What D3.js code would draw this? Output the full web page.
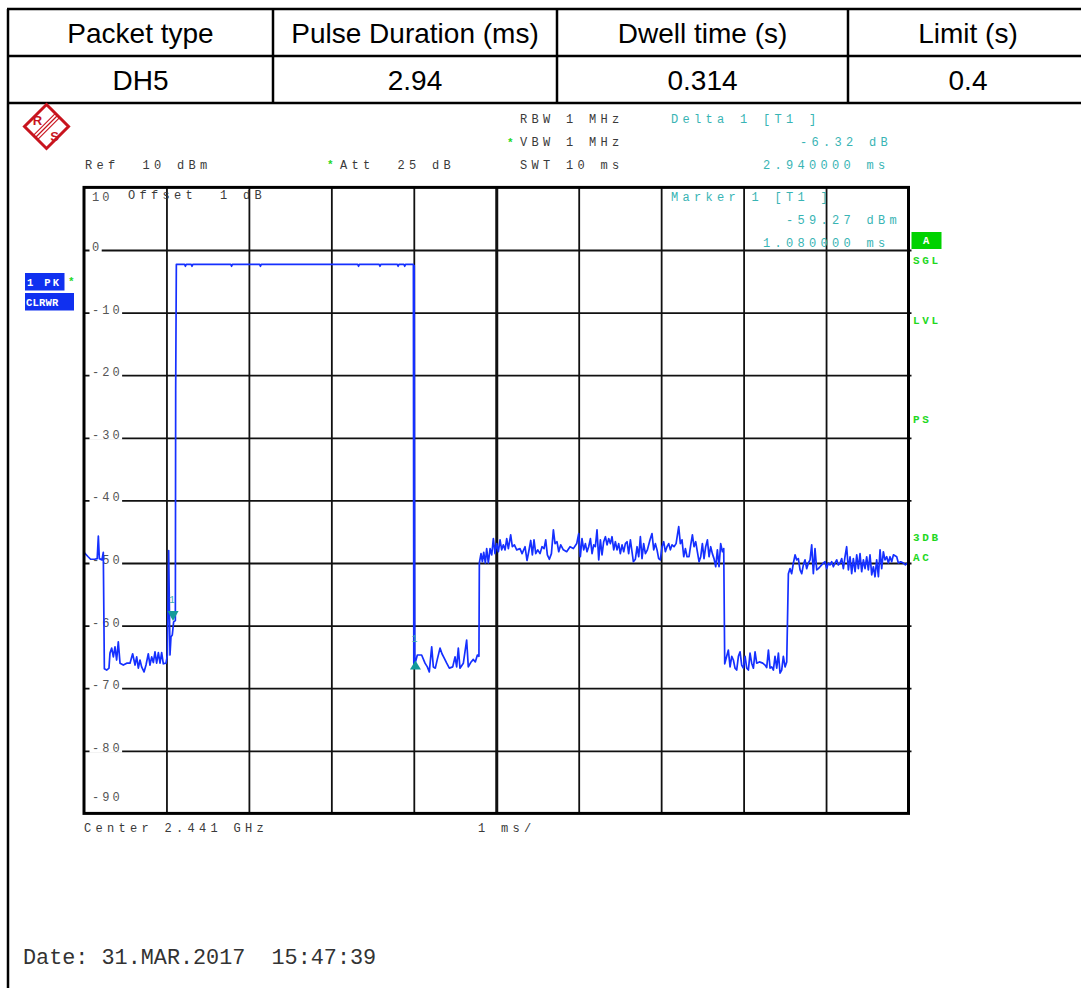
<!DOCTYPE html>
<html><head><meta charset="utf-8">
<script src="https://cdn.jsdelivr.net/npm/d3@7"></script>
<style>body{margin:0;background:#fff}svg{display:block}</style>
</head><body>
<svg id="c" width="1081" height="988"></svg>
<script>
// ---------------- data ----------------
const tableHeaders = ["Packet type", "Pulse Duration (ms)", "Dwell time (s)", "Limit (s)"];
const tableValues = ["DH5", "2.94", "0.314", "0.4"];
const yTicks = [10, 0, -10, -20, -30, -40, -50, -60, -70, -80, -90];
const xTicks = [0, 1, 2, 3, 4, 5, 6, 7, 8, 9, 10];
const markerTimesMs = [1.08, 4.02];        // marker 1, delta 1 position
const markerLevelsDbm = [-59.27, -65.59];  // marker 1, delta 1 level
const deltaValues = ["-6.32 dB", "2.940000 ms"];
const markerValues = ["-59.27 dBm", "1.080000 ms"];
const statusLabels = ["SGL", "LVL", "PS", "3DB", "AC"];
// trace: [time (ms), level (dBm)]
const trace = [
[0.00,-48.3],[0.05,-49.0],[0.08,-49.4],[0.13,-49.4],[0.16,-49.3],[0.174,-45.7],[0.186,-49.3],[0.218,-49.5],[0.234,-48.3],[0.247,-66.9],
[0.275,-67.1],[0.303,-66.8],[0.315,-64.4],[0.336,-63.6],[0.356,-65.0],[0.376,-63.4],[0.396,-65.5],[0.416,-62.6],[0.437,-66.0],[0.477,-66.3],
[0.518,-66.0],[0.558,-66.0],[0.590,-64.5],[0.619,-66.3],[0.639,-65.0],[0.659,-66.8],[0.679,-65.5],[0.699,-66.6],[0.728,-67.4],[0.752,-66.3],
[0.780,-64.5],[0.800,-66.3],[0.821,-65.0],[0.841,-65.9],[0.861,-64.2],[0.881,-66.0],[0.902,-64.3],[0.922,-66.0],[0.942,-64.3],[0.962,-66.1],
[0.995,-66.0],[1.011,-64.7],[1.027,-48.0],[1.043,-64.7],[1.055,-61.8],[1.071,-61.5],[1.087,-59.4],[1.108,-59.2],[1.112,-22.5],[1.120,-2.3],
[1.22,-2.3],[1.23,-2.6],[1.24,-2.3],[1.30,-2.3],[1.31,-2.6],[1.32,-2.3],[1.78,-2.3],[1.79,-2.6],[1.80,-2.3],[2.13,-2.3],[2.14,-2.6],[2.15,-2.3],
[3.32,-2.3],[3.33,-2.6],[3.34,-2.3],[3.58,-2.3],[3.59,-2.6],[3.60,-2.3],[3.80,-2.3],[3.81,-2.6],[3.82,-2.3],[3.88,-2.3],[3.89,-2.6],[3.90,-2.3],
[3.995,-2.3],[4.000,-66.0],[4.005,-2.5],[4.012,-66.2],
[4.043,-64.7],[4.095,-64.7],[4.136,-66.0],[4.164,-66.6],[4.188,-67.4],[4.217,-63.4],[4.237,-66.6],[4.261,-66.8],[4.285,-65.4],[4.318,-63.6],
[4.342,-64.5],[4.366,-65.1],[4.399,-66.0],[4.431,-66.8],[4.472,-66.6],[4.500,-65.0],[4.520,-66.6],[4.540,-63.6],[4.560,-66.8],[4.601,-66.0],
[4.641,-62.3],[4.661,-66.6],[4.690,-65.9],[4.722,-65.4],[4.746,-65.8],[4.771,-64.7],[4.790,-64.9],
[4.795,-50.0],[4.815,-48.5],[4.832,-49.8],[4.848,-48.3],[4.868,-50.0],[4.884,-47.7],[4.904,-50.0],[4.925,-47.7],[4.945,-48.7],[4.965,-46.1],
[4.985,-48.5],[5.005,-46.9],[5.026,-48.2],[5.046,-46.3],[5.066,-47.9],[5.086,-47.1],[5.107,-47.9],[5.127,-46.1],[5.147,-47.7],[5.175,-45.5],
[5.195,-47.4],[5.220,-47.1],[5.248,-47.9],[5.288,-47.7],[5.313,-48.5],[5.349,-47.4],[5.373,-49.6],[5.394,-48.2],[5.418,-46.4],[5.438,-48.7],
[5.458,-46.3],[5.479,-48.5],[5.503,-47.9],[5.531,-48.5],[5.555,-47.4],[5.580,-47.7],[5.600,-46.3],[5.620,-48.7],[5.644,-49.4],[5.669,-48.5],
[5.693,-44.7],[5.713,-46.9],[5.737,-46.6],[5.758,-48.2],[5.782,-47.1],[5.814,-47.9],[5.854,-48.2],[5.895,-47.4],[5.935,-47.7],[5.976,-46.9],
[6.000,-45.3],[6.020,-49.0],[6.040,-46.1],[6.061,-47.9],[6.081,-46.9],[6.101,-48.2],[6.121,-47.4],[6.142,-46.1],[6.162,-48.5],[6.182,-47.1],
[6.202,-47.4],[6.222,-44.7],[6.243,-49.5],[6.263,-46.3],[6.283,-48.7],[6.303,-46.6],[6.324,-45.8],[6.344,-47.1],[6.364,-46.1],[6.384,-46.9],
[6.404,-45.8],[6.425,-47.9],[6.445,-46.6],[6.465,-47.9],[6.485,-46.9],[6.505,-48.5],[6.526,-47.1],[6.546,-48.2],[6.566,-46.9],[6.586,-46.6],
[6.606,-48.5],[6.627,-46.3],[6.663,-49.8],[6.687,-49.4],[6.708,-47.4],[6.728,-49.0],[6.748,-45.8],[6.768,-49.3],[6.788,-46.9],[6.809,-48.5],
[6.833,-47.9],[6.865,-46.3],[6.889,-45.3],[6.910,-47.9],[6.930,-46.9],[6.950,-47.9],[6.970,-49.3],[6.990,-49.5],[7.011,-47.4],[7.031,-46.6],
[7.051,-48.2],[7.071,-47.4],[7.092,-46.9],[7.112,-47.9],[7.132,-47.1],[7.156,-47.4],[7.181,-46.9],[7.213,-44.2],[7.233,-46.9],[7.253,-46.3],
[7.274,-49.0],[7.294,-47.7],[7.314,-49.0],[7.338,-49.0],[7.359,-47.1],[7.379,-45.5],[7.399,-47.4],[7.419,-46.6],[7.439,-48.2],[7.460,-49.8],
[7.480,-49.0],[7.500,-46.9],[7.520,-49.3],[7.540,-47.4],[7.561,-46.3],[7.581,-49.0],[7.601,-47.4],[7.621,-48.5],[7.641,-49.3],[7.662,-50.6],
[7.682,-47.9],[7.702,-50.6],[7.722,-46.9],[7.743,-48.2],[7.759,-47.7],
[7.771,-66.1],[7.795,-64.9],[7.815,-63.9],[7.836,-66.6],[7.856,-64.9],[7.876,-65.5],[7.896,-66.8],[7.916,-67.1],[7.937,-64.9],[7.957,-64.2],
[7.977,-66.3],[7.997,-66.8],[8.018,-64.9],[8.038,-66.8],[8.058,-67.1],[8.078,-64.4],[8.098,-66.0],[8.119,-66.8],[8.139,-64.2],[8.159,-66.0],
[8.191,-65.8],[8.232,-66.0],[8.260,-66.3],[8.280,-66.7],[8.301,-63.9],[8.321,-66.8],[8.341,-66.6],[8.361,-67.1],[8.381,-64.9],[8.402,-66.8],
[8.422,-64.4],[8.442,-67.6],[8.462,-67.1],[8.482,-64.9],[8.503,-66.6],[8.523,-65.8],
[8.543,-51.7],[8.563,-50.9],[8.583,-51.7],[8.604,-50.0],[8.624,-48.7],[8.644,-49.5],[8.664,-49.3],[8.685,-51.1],[8.705,-51.7],[8.725,-50.3],
[8.745,-49.5],[8.765,-50.9],[8.786,-50.0],[8.806,-49.5],[8.826,-47.1],[8.846,-51.7],[8.866,-47.7],[8.887,-51.1],[8.907,-50.9],[8.927,-50.6],
[8.947,-50.3],[8.968,-50.0],[8.988,-49.8],[9.008,-50.9],[9.028,-50.0],[9.048,-50.3],[9.069,-49.8],[9.089,-50.6],[9.109,-50.0],[9.129,-49.5],
[9.149,-50.3],[9.170,-50.0],[9.190,-49.3],[9.210,-50.9],[9.230,-49.0],[9.250,-47.4],[9.271,-51.1],[9.291,-49.0],[9.311,-51.7],[9.331,-49.3],
[9.352,-51.4],[9.372,-48.7],[9.392,-50.9],[9.412,-48.5],[9.432,-51.4],[9.453,-49.5],[9.473,-50.9],[9.493,-49.0],[9.513,-51.1],[9.533,-48.7],
[9.554,-51.9],[9.574,-50.6],[9.594,-52.2],[9.614,-49.5],[9.635,-52.2],[9.655,-47.9],[9.675,-50.9],[9.695,-48.2],[9.715,-49.5],[9.736,-49.0],
[9.756,-50.0],[9.776,-49.0],[9.796,-49.8],[9.817,-48.7],[9.857,-49.0],[9.877,-50.0],[9.905,-49.8],[9.938,-50.0],[9.962,-50.3],[9.986,-50.0],[10.0,-50.0]
];

// ---------------- drawing ----------------
const svg = d3.select("#c");
const MONO = "'Liberation Mono','DejaVu Sans Mono',monospace";
const SANS = "'Liberation Sans',Arial,sans-serif";

// table
const colEdges = [8, 273, 557, 848, 1090];
const rowEdges = [9, 56, 103];
const tbl = svg.append("g");
rowEdges.forEach(yv => tbl.append("line").attr("x1", 7).attr("x2", 1081).attr("y1", yv).attr("y2", yv)
  .attr("stroke", "#000").attr("stroke-width", 2.5));
colEdges.slice(0, 4).forEach(xv => tbl.append("line").attr("x1", xv).attr("x2", xv).attr("y1", 9).attr("y2", 103)
  .attr("stroke", "#000").attr("stroke-width", 2.5));
const colCenter = i => i === 3 ? 968 : (colEdges[i] + colEdges[i + 1]) / 2;
tbl.selectAll("text.h").data(tableHeaders).join("text").attr("class", "h")
  .attr("x", (d, i) => colCenter(i)).attr("y", 43).attr("text-anchor", "middle")
  .attr("font-family", SANS).attr("font-size", 28).attr("fill", "#000").text(d => d);
tbl.selectAll("text.v").data(tableValues).join("text").attr("class", "v")
  .attr("x", (d, i) => colCenter(i)).attr("y", 90).attr("text-anchor", "middle")
  .attr("font-family", SANS).attr("font-size", 28).attr("fill", "#000").text(d => d);
// page frame left line
svg.append("line").attr("x1", 8).attr("x2", 8).attr("y1", 103).attr("y2", 988).attr("stroke", "#000").attr("stroke-width", 2.5);

// R&S logo
const logo = svg.append("g").attr("transform", "translate(46.5,126.5)");
logo.append("path").attr("d", "M0,-22L22,0L0,22L-22,0Z").attr("fill", "#fff").attr("stroke", "#c8141e").attr("stroke-width", 3);
[-3, 0, 3].forEach(o => logo.append("line")
  .attr("x1", -11 + o * 0.7).attr("y1", 11 + o * 0.7).attr("x2", 11 + o * 0.7).attr("y2", -11 + o * 0.7)
  .attr("stroke", "#c8141e").attr("stroke-width", 1.2));
logo.append("text").attr("x", -9).attr("y", -2).attr("text-anchor", "middle").attr("font-family", SANS)
  .attr("font-weight", "bold").attr("font-size", 13).attr("fill", "#c8141e").text("R");
logo.append("text").attr("x", 8).attr("y", 14).attr("text-anchor", "middle").attr("font-family", SANS)
  .attr("font-weight", "bold").attr("font-size", 13).attr("fill", "#c8141e").text("S");

// instrument text helper
function itext(x0, y0, s, color, opts = {}) {
  return svg.append("text").attr("x", x0).attr("y", y0)
    .attr("font-family", MONO).attr("font-size", opts.size || 12)
    .attr("font-weight", opts.weight || "normal")
    .style("letter-spacing", (opts.ls !== undefined ? opts.ls : 4.3) + "px")
    .style("white-space", "pre").attr("xml:space", "preserve")
    .attr("fill", color).text(s);
}
const GRAY = "#3a3a3a", TEAL = "#38b4b4", GREEN = "#1fd81f";
itext(85, 169, "Ref  10 dBm", GRAY);
itext(327, 168, "*", GREEN, {weight: "bold", size: 11, ls: 0});
itext(340, 169, "Att  25 dB", GRAY);
itext(520, 123, "RBW 1 MHz", GRAY);
itext(507, 146, "*", GREEN, {weight: "bold", size: 11, ls: 0});
itext(520, 146, "VBW 1 MHz", GRAY);
itext(520, 169, "SWT 10 ms", GRAY);
itext(671, 123, "Delta 1 [T1 ]", TEAL);
itext(800, 146, deltaValues[0], TEAL);
itext(763, 169, deltaValues[1], TEAL);

// scales
const x = d3.scaleLinear().domain([0, 10]).range([84, 908.5]);
const y = d3.scaleLinear().domain([-90, 10]).range([813.4, 187.4]);

// grid via axes
const plotW = x(10) - x(0), plotH = y(-90) - y(10);
const gy = svg.append("g").attr("transform", `translate(${x(0)},0)`)
  .call(d3.axisRight(y).tickValues(yTicks.filter(v => v < 10 && v > -90)).tickSize(plotW + 3).tickFormat(""));
gy.select(".domain").remove();
gy.selectAll(".tick line").attr("stroke", "#111").attr("stroke-width", 1.8);
const gx = svg.append("g").attr("transform", `translate(0,${y(10)})`)
  .call(d3.axisBottom(x).tickValues(xTicks.filter(v => v > 0 && v < 10)).tickSize(plotH).tickFormat(""));
gx.select(".domain").remove();
gx.selectAll(".tick line").attr("stroke", "#111").attr("stroke-width", d => d === 5 ? 3 : 1.8);

// y labels with white backing
const labG = svg.append("g");
yTicks.forEach(v => {
  let by = y(v) + 1;
  if (v === 10) by = 201;
  if (v === -90) by = 801;
  const t = labG.append("text").attr("x", 92).attr("y", by).attr("font-family", MONO).attr("font-size", 12)
    .style("letter-spacing", "3px").attr("fill", "#555").text(v);
  if (v < 10 && v > -90) {
    const len = t.node().getComputedTextLength();
    labG.insert("rect", "text").attr("x", 89.5).attr("y", y(v) - 2).attr("width", len + 2).attr("height", 4).attr("fill", "#fff");
  }
});
itext(128, 199, "Offset  1 dB", GRAY);

// marker readout
itext(671, 201, "Marker 1 [T1 ]", TEAL);
itext(786, 224, markerValues[0], TEAL);
itext(763, 247, markerValues[1], TEAL);

// trace
const line = d3.line().x(d => x(d[0])).y(d => y(d[1]));
svg.append("path").datum(trace).attr("d", line).attr("fill", "none")
  .attr("stroke", "#1530ff").attr("stroke-width", 1.7).attr("stroke-linejoin", "round");

// markers
const mk = svg.append("g");
markerTimesMs.forEach((t, i) => {
  const mx = x(t), my = y(markerLevelsDbm[i]);
  if (i === 0) {
    mk.append("path").attr("d", `M${mx - 5.5},${my - 10}L${mx + 5.5},${my - 10}L${mx},${my}Z`).attr("fill", "#139a9a");
    mk.append("text").attr("x", mx - 1).attr("y", my - 18).attr("text-anchor", "middle").attr("font-family", MONO)
      .attr("font-size", 10).attr("fill", "#40b0b0").text("1");
  } else {
    mk.append("path").attr("d", `M${mx - 5.5},${my + 9}L${mx + 5.5},${my + 9}L${mx},${my}Z`).attr("fill", "#139a9a");
    mk.append("text").attr("x", mx - 1).attr("y", my - 19).attr("text-anchor", "middle").attr("font-family", MONO)
      .attr("font-size", 10).attr("fill", "#40b0b0").text("1");
  }
});

// frame
svg.append("rect").attr("x", x(0)).attr("y", y(10)).attr("width", plotW).attr("height", plotH)
  .attr("fill", "none").attr("stroke", "#000").attr("stroke-width", 3);

// left trace boxes
const BLUE = "#1030f0";
svg.append("rect").attr("x", 25).attr("y", 273).attr("width", 39.5).attr("height", 17.5).attr("fill", BLUE);
itext(27, 286, "1 PK", "#fff", {weight: "bold", size: 10.5, ls: 2.3});
itext(68, 285, "*", GREEN, {weight: "bold", size: 11, ls: 0});
svg.append("rect").attr("x", 25).attr("y", 293).attr("width", 49).attr("height", 17.5).attr("fill", BLUE);
itext(26, 306, "CLRWR", "#fff", {weight: "bold", size: 10.5, ls: 0.2});

// right status labels
svg.append("rect").attr("x", 911.5).attr("y", 232).attr("width", 30).attr("height", 17).attr("fill", "#00d200");
itext(923, 244, "A", "#fff", {weight: "bold", size: 10.5, ls: 0});
const statusY = [263.5, 323.5, 422.5, 540.5, 560.5];
statusLabels.forEach((s, i) => itext(913, statusY[i], s, GREEN, {weight: "bold", size: 11, ls: 2.7}));

// bottom
itext(84, 832, "Center 2.441 GHz", GRAY);
itext(478, 832, "1 ms/", GRAY);
svg.append("text").attr("x", 23).attr("y", 964).attr("font-family", MONO).attr("font-size", 21.8)
  .style("white-space", "pre").attr("xml:space", "preserve").attr("fill", "#333").text("Date: 31.MAR.2017  15:47:39");
</script>
</body></html>
